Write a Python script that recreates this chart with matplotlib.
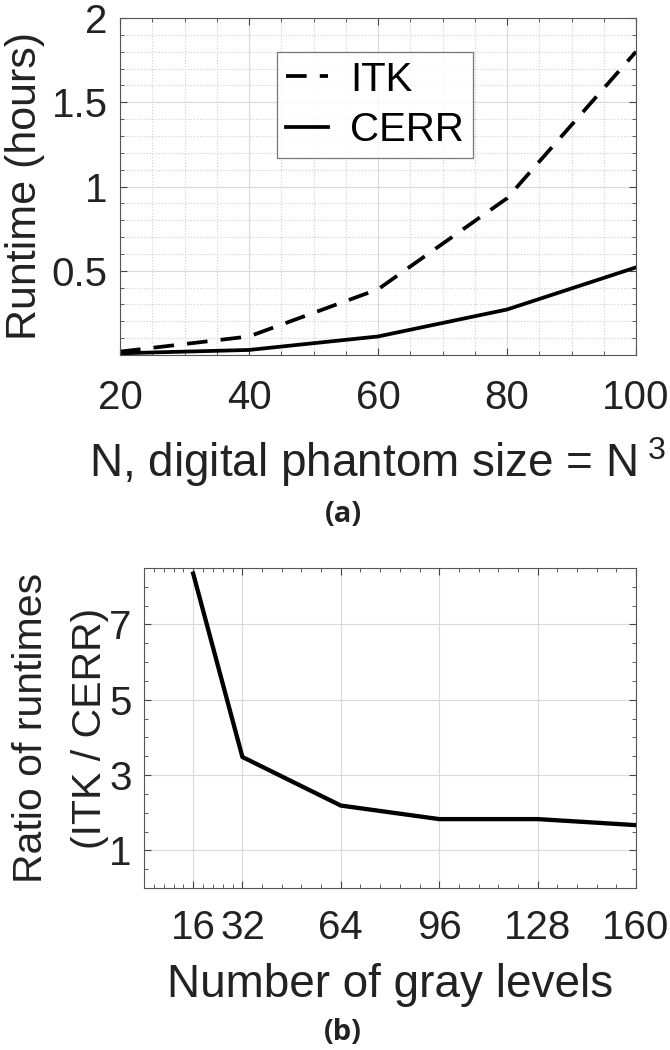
import numpy as np
import matplotlib
matplotlib.use("Agg")
from matplotlib import pyplot as plt
from matplotlib.ticker import MultipleLocator, FixedLocator

plt.rcParams['font.family'] = ['Liberation Sans', 'DejaVu Sans']
plt.rcParams['mathtext.fontset'] = 'custom'
plt.rcParams['mathtext.rm'] = 'Liberation Sans'
plt.rcParams['mathtext.it'] = 'Liberation Sans'

# panel (a): runtime vs phantom size
phantom_n = [20, 40, 60, 80, 100]
itk_hours = [0.02, 0.11, 0.39, 0.93, 1.80]
cerr_hours = [0.01, 0.03, 0.11, 0.27, 0.52]

# panel (b): runtime ratio vs gray levels
gray_levels = [16, 32, 64, 96, 128, 160]
runtime_ratio = [8.35, 3.48, 2.19, 1.83, 1.83, 1.67]
gray_ticks = [16, 32, 64, 96, 128, 160]

fig = plt.figure(figsize=(6.7, 10.5), dpi=100)

txt = '#222222'
grid_major = dict(color='#d9d9d9', linewidth=0.8, linestyle='-')
grid_minor = dict(color='#cfcfcf', linewidth=0.8, linestyle=':')

def style_axes(ax):
    ax.tick_params(which='both', direction='in', top=True, right=True, colors='#444444',
                   labelcolor=txt, labelsize=29)
    ax.tick_params(axis='x', which='major', pad=17)
    ax.tick_params(axis='y', which='major', pad=9)
    ax.tick_params(which='major', length=5)
    ax.tick_params(which='minor', length=3)
    for s in ax.spines.values():
        s.set_color('#555555')

# ---- (a)
ax1 = fig.add_axes([120 / 670, 1 - 355 / 1050, 516 / 670, 337 / 1050])
ax1.plot(phantom_n, itk_hours, 'k--', lw=2.7, dashes=(5.5, 3.5), label='ITK')
ax1.plot(phantom_n, cerr_hours, 'k-', lw=2.7, label='CERR')
ax1.set_xlim(20, 100)
ax1.set_ylim(0, 2)
ax1.set_xticks([20, 40, 60, 80, 100])
ax1.set_yticks([0.5, 1, 1.5, 2])
ax1.set_yticklabels(['0.5', '1', '1.5', '2'])
ax1.xaxis.set_minor_locator(MultipleLocator(5))
ax1.yaxis.set_minor_locator(MultipleLocator(0.1))
ax1.grid(True, which='major', **grid_major)
ax1.grid(True, which='minor', **grid_minor)
style_axes(ax1)
ax1.set_ylabel('Runtime (hours)', fontsize=31, color=txt, labelpad=5)
ax1.set_xlabel('N, digital phantom size = N$^{\\ 3}$', fontsize=33, color=txt)
ax1.xaxis.set_label_coords(0.5, (355 - 477) / 337)
ax1.xaxis.label.set_va('baseline')
leg = ax1.legend(loc='upper left', bbox_to_anchor=(0.304, 0.9), borderaxespad=0,
                 fontsize=29, frameon=True, fancybox=False, edgecolor='#555555',
                 handlelength=1.05, handletextpad=0.55, borderpad=0.22, labelspacing=0.3)
leg.get_frame().set_linewidth(0.9)
fig.text(343 / 670, 1 - 515 / 1050, '(a)', ha='center', va='center', fontsize=21,
         fontweight='bold', family='Open Sans', color=txt)

# ---- (b)
ax2 = fig.add_axes([144 / 670, 1 - 888 / 1050, 492 / 670, 320 / 1050])
ax2.plot(gray_levels, runtime_ratio, 'k-', lw=3.1)
ax2.set_xlim(0, 160)
ax2.set_ylim(0, 8.5)
ax2.set_xticks(gray_ticks)
ax2.set_xticklabels(['16', '32', '64', '96', '128', '160'])
ax2.set_yticks([1, 3, 5, 7])
ax2.xaxis.set_minor_locator(FixedLocator(list(np.arange(0, 32, 3.2)) + list(np.arange(32, 161, 6.4))))
ax2.yaxis.set_minor_locator(MultipleLocator(0.5))
ax2.grid(True, which='major', **grid_major)
style_axes(ax2)
ax2.tick_params(axis='x', which='major', pad=15)
ax2.set_ylabel('Ratio of runtimes\n(ITK / CERR)', fontsize=29.5, color=txt,
               labelpad=0, linespacing=1.7)
ax2.set_xlabel('Number of gray levels', fontsize=33, color=txt)
ax2.xaxis.set_label_coords(0.5, (888 - 997) / 320)
ax2.xaxis.label.set_va('baseline')
fig.text(343 / 670, 1 - 1032 / 1050, '(b)', ha='center', va='center', fontsize=21,
         fontweight='bold', family='Open Sans', color=txt)

fig.savefig('out.png', dpi=100)
